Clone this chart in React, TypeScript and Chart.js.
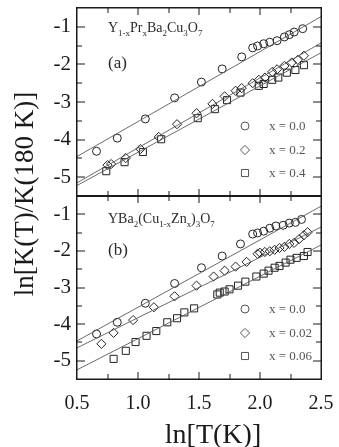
import React, { useEffect, useRef } from 'react';
import { Chart, registerables } from 'chart.js';

Chart.register(...registerables);

const W = 339;
const H = 447;
const SERIF = '"Liberation Serif", "Times New Roman", serif';
const INK = '#1a1a1a';
const LINE = '#5a5a5a';

// axis layout
const xMin = 0.5;
const xMax = 2.5;
const yMin = -5.5;
const yMax = -0.5;
const xTickValues = [0.5, 1.0, 1.5, 2.0, 2.5];
const yTickValues = [-5, -4, -3, -2, -1];
const fitX = [0.5, 2.5];

// Y(1-x)Pr(x)Ba2Cu3O7
const prX00 = [0.66, 0.83, 1.06, 1.30, 1.52, 1.69, 1.85, 1.94, 1.98, 2.03, 2.08, 2.14, 2.20, 2.24, 2.28, 2.35];
const prY00 = [-4.31, -3.96, -3.45, -2.89, -2.47, -2.12, -1.80, -1.56, -1.51, -1.45, -1.41, -1.37, -1.27, -1.21, -1.14, -1.05];
const prX02 = [0.75, 0.78, 0.90, 1.02, 1.17, 1.32, 1.48, 1.61, 1.71, 1.80, 1.85, 1.94, 1.99, 2.04, 2.10, 2.14, 2.20, 2.26, 2.31, 2.36];
const prY02 = [-4.68, -4.65, -4.49, -4.25, -3.93, -3.59, -3.30, -3.05, -2.85, -2.70, -2.63, -2.50, -2.41, -2.35, -2.20, -2.13, -2.04, -1.95, -1.88, -1.77];
const prX04 = [0.74, 0.89, 1.04, 1.19, 1.49, 1.63, 1.73, 1.84, 1.99, 2.03, 2.10, 2.15, 2.22, 2.29, 2.36];
const prY04 = [-4.84, -4.60, -4.33, -3.99, -3.43, -3.19, -2.95, -2.75, -2.57, -2.52, -2.41, -2.35, -2.22, -2.15, -2.02];
const prFit00 = [-4.45, -0.73];
const prFit02 = [-5.15, -1.43];
const prFit04 = [-5.22, -1.69];

// YBa2(Cu(1-x)Zn(x))3O7
const znX000 = [0.66, 0.83, 1.06, 1.30, 1.52, 1.69, 1.84, 1.94, 1.98, 2.03, 2.08, 2.13, 2.19, 2.24, 2.29, 2.34];
const znY000 = [-4.27, -3.95, -3.43, -2.89, -2.46, -2.14, -1.81, -1.54, -1.51, -1.46, -1.38, -1.32, -1.30, -1.24, -1.22, -1.14];
const znX002 = [0.70, 0.80, 0.96, 1.13, 1.30, 1.48, 1.62, 1.71, 1.80, 1.89, 1.98, 2.00, 2.04, 2.08, 2.12, 2.16, 2.20, 2.24, 2.28, 2.32, 2.36, 2.39];
const znY002 = [-4.54, -4.24, -3.89, -3.54, -3.24, -2.95, -2.70, -2.54, -2.43, -2.30, -2.08, -2.05, -2.03, -2.01, -1.97, -1.92, -1.89, -1.81, -1.78, -1.68, -1.57, -1.49];
const znX006 = [0.80, 0.90, 0.98, 1.07, 1.15, 1.24, 1.32, 1.38, 1.46, 1.65, 1.67, 1.71, 1.75, 1.82, 1.88, 1.97, 2.03, 2.07, 2.12, 2.16, 2.21, 2.25, 2.30, 2.36, 2.39];
const znY006 = [-4.95, -4.73, -4.49, -4.32, -4.19, -3.95, -3.84, -3.68, -3.57, -3.19, -3.14, -3.11, -3.05, -2.95, -2.84, -2.70, -2.62, -2.54, -2.46, -2.41, -2.32, -2.24, -2.19, -2.14, -2.03];
const znFit000 = [-4.46, -0.78];
const znFit002 = [-4.65, -1.35];
const znFit006 = [-5.25, -1.84];

const prLegend = ['x = 0.0', 'x = 0.2', 'x = 0.4'];
const znLegend = ['x = 0.0', 'x = 0.02', 'x = 0.06'];

type Seg = [string, boolean];
const prFormula: Seg[] = [['Y', false], ['1-x', true], ['Pr', false], ['x', true], ['Ba', false], ['2', true], ['Cu', false], ['3', true], ['O', false], ['7', true]];
const znFormula: Seg[] = [['YBa', false], ['2', true], ['(Cu', false], ['1-x', true], ['Zn', false], ['x', true], [')', false], ['3', true], ['O', false], ['7', true]];

type Marker = 'circle' | 'rectRot' | 'rect';
const markers: Marker[] = ['circle', 'rectRot', 'rect'];
const markerRadius: Record<Marker, number> = { circle: 4, rectRot: 4.6, rect: 5 };

interface Panel {
  xs: number[][];
  ys: number[][];
  fits: number[][];
  legend: string[];
  formula: Seg[];
  tag: string;
}

const prPanel: Panel = {
  xs: [prX00, prX02, prX04],
  ys: [prY00, prY02, prY04],
  fits: [prFit00, prFit02, prFit04],
  legend: prLegend,
  formula: prFormula,
  tag: '(a)',
};

const znPanel: Panel = {
  xs: [znX000, znX002, znX006],
  ys: [znY000, znY002, znY006],
  fits: [znFit000, znFit002, znFit006],
  legend: znLegend,
  formula: znFormula,
  tag: '(b)',
};

function drawFormula(ctx: CanvasRenderingContext2D, segs: Seg[], x: number, y: number, size: number) {
  let cx = x;
  ctx.textAlign = 'left';
  ctx.textBaseline = 'alphabetic';
  for (const [t, sub] of segs) {
    const s = sub ? size * 0.64 : size;
    ctx.font = `${s}px ${SERIF}`;
    ctx.fillText(t, cx, sub ? y + size * 0.28 : y);
    cx += ctx.measureText(t).width;
  }
}

function drawMarker(ctx: CanvasRenderingContext2D, m: Marker, x: number, y: number) {
  const r = markerRadius[m];
  ctx.beginPath();
  if (m === 'circle') {
    ctx.arc(x, y, r, 0, Math.PI * 2);
  } else if (m === 'rectRot') {
    ctx.moveTo(x - r, y);
    ctx.lineTo(x, y - r);
    ctx.lineTo(x + r, y);
    ctx.lineTo(x, y + r);
    ctx.closePath();
  } else {
    const h = r * Math.SQRT1_2;
    ctx.rect(x - h, y - h, 2 * h, 2 * h);
  }
  ctx.stroke();
}

function panelPlugin(panel: Panel, isBottom: boolean) {
  return {
    id: 'panelDecor',
    afterDraw(chart: any) {
      const { ctx, chartArea: a, scales } = chart;
      const xs = scales.x;
      const ys = scales.y;
      ctx.save();
      ctx.globalAlpha = 1;
      ctx.globalCompositeOperation = 'source-over';
      ctx.setLineDash([]);

      // frame, drawn as thin filled bars
      ctx.fillStyle = INK;
      const L = Math.round(a.left);
      const R = Math.round(a.right);
      const T = Math.round(a.top);
      const B = Math.round(a.bottom);
      ctx.fillRect(L - 1, T - 1, R - L + 2, 1.5);
      ctx.fillRect(L - 1, B - 0.5, R - L + 2, 1.5);
      ctx.fillRect(L - 1, T - 1, 1.5, B - T + 2);
      ctx.fillRect(R - 0.5, T - 1, 1.5, B - T + 2);

      // inward tick marks on all four sides
      for (let v = 0.75; v < 2.5; v += 0.25) {
        const px = Math.round(xs.getPixelForValue(v));
        const major = Math.abs(v * 2 - Math.round(v * 2)) < 1e-6;
        const len = major ? 7 : 5;
        ctx.fillRect(px - 0.5, T, 1, len);
        ctx.fillRect(px - 0.5, B - len, 1, len);
      }
      for (let v = -5; v <= -1 + 1e-6; v += 0.5) {
        const py = Math.round(ys.getPixelForValue(v));
        const major = Math.abs(v - Math.round(v)) < 1e-6;
        const len = major ? 8 : 5;
        ctx.fillRect(L, py - 0.5, len, 1);
        ctx.fillRect(R - len, py - 0.5, len, 1);
      }

      // compound formula and panel tag
      ctx.fillStyle = '#2a2a2a';
      drawFormula(ctx, panel.formula, a.left + 31, a.top + (isBottom ? 27 : 24), 14);
      ctx.font = `17px ${SERIF}`;
      ctx.textAlign = 'left';
      ctx.textBaseline = 'middle';
      ctx.fillText(panel.tag, a.left + 31, a.top + (isBottom ? 55 : 56));

      // legend
      const lx = a.left + 168;
      const ly = a.top + (isBottom ? 113 : 118);
      const gaps = [0, 24, 47];
      ctx.strokeStyle = '#555';
      ctx.lineWidth = 1;
      ctx.fillStyle = '#555';
      ctx.font = `13px ${SERIF}`;
      ctx.textBaseline = 'middle';
      markers.forEach((m, i) => {
        drawMarker(ctx, m, lx, ly + gaps[i]);
        ctx.fillText(panel.legend[i], lx + 24, ly + gaps[i] + 1);
      });

      if (isBottom) {
        ctx.fillStyle = INK;
        ctx.font = `28px ${SERIF}`;
        ctx.textAlign = 'center';
        ctx.textBaseline = 'middle';
        ctx.fillText('ln[T(K)]', 213, 436);

        ctx.save();
        ctx.translate(26, 194);
        ctx.rotate(-Math.PI / 2);
        ctx.font = `27px ${SERIF}`;
        ctx.fillText('ln[K(T)/K(180 K)]', 0, 0);
        ctx.restore();
      }
      ctx.restore();
    },
  };
}

function buildConfig(panel: Panel, isBottom: boolean): any {
  const datasets: any[] = [];
  panel.fits.forEach((f) => {
    datasets.push({
      data: fitX.map((x, i) => ({ x, y: f[i] })),
      showLine: true,
      borderColor: LINE,
      borderWidth: 0.9,
      pointRadius: 0,
      fill: false,
    });
  });
  panel.xs.forEach((xs, k) => {
    datasets.push({
      data: xs.map((x, i) => ({ x, y: panel.ys[k][i] })),
      showLine: false,
      pointStyle: markers[k],
      pointRadius: markerRadius[markers[k]],
      pointBorderColor: '#222',
      pointBackgroundColor: 'rgba(0,0,0,0)',
      pointBorderWidth: 1,
    });
  });

  return {
    type: 'scatter',
    data: { datasets },
    options: {
      responsive: false,
      animation: false,
      devicePixelRatio: 1,
      layout: {
        padding: isBottom
          ? { top: 196, right: 18, bottom: 0, left: 0 }
          : { top: 8, right: 18, bottom: H - 196, left: 0 },
      },
      plugins: { legend: { display: false }, tooltip: { enabled: false }, title: { display: false } },
      scales: {
        x: {
          type: 'linear',
          min: xMin,
          max: xMax,
          display: isBottom,
          grid: { display: false, drawTicks: false },
          border: { display: false },
          afterBuildTicks: (s: any) => {
            s.ticks = xTickValues.map((v) => ({ value: v }));
          },
          afterFit: (s: any) => {
            if (isBottom) s.height = 68;
            s.paddingLeft = 0;
            s.paddingRight = 0;
          },
          ticks: {
            padding: 13,
            color: INK,
            font: { family: SERIF, size: 20 },
            callback: (v: number) => v.toFixed(1),
            maxRotation: 0,
          },
        },
        y: {
          type: 'linear',
          min: yMin,
          max: yMax,
          grid: { display: false, drawTicks: false },
          border: { display: false },
          afterBuildTicks: (s: any) => {
            s.ticks = yTickValues.map((v) => ({ value: v }));
          },
          afterFit: (s: any) => {
            s.width = 77;
            s.paddingTop = 0;
            s.paddingBottom = 0;
          },
          ticks: {
            padding: 6,
            color: INK,
            font: { family: SERIF, size: 21 },
            callback: (v: number) => String(v),
          },
        },
      },
    },
    plugins: [panelPlugin(panel, isBottom)],
  };
}

export default function App() {
  const topRef = useRef<HTMLCanvasElement>(null);
  const botRef = useRef<HTMLCanvasElement>(null);

  useEffect(() => {
    const bottom = new Chart(botRef.current as HTMLCanvasElement, buildConfig(znPanel, true));
    const top = new Chart(topRef.current as HTMLCanvasElement, buildConfig(prPanel, false));
    return () => {
      top.destroy();
      bottom.destroy();
    };
  }, []);

  const canvasStyle: React.CSSProperties = { position: 'absolute', left: 0, top: 0, width: W, height: H };
  return (
    <div style={{ position: 'fixed', left: 0, top: 0, width: W, height: H, background: '#fff' }}>
      <canvas ref={botRef} width={W} height={H} style={canvasStyle} />
      <canvas ref={topRef} width={W} height={H} style={canvasStyle} />
    </div>
  );
}
